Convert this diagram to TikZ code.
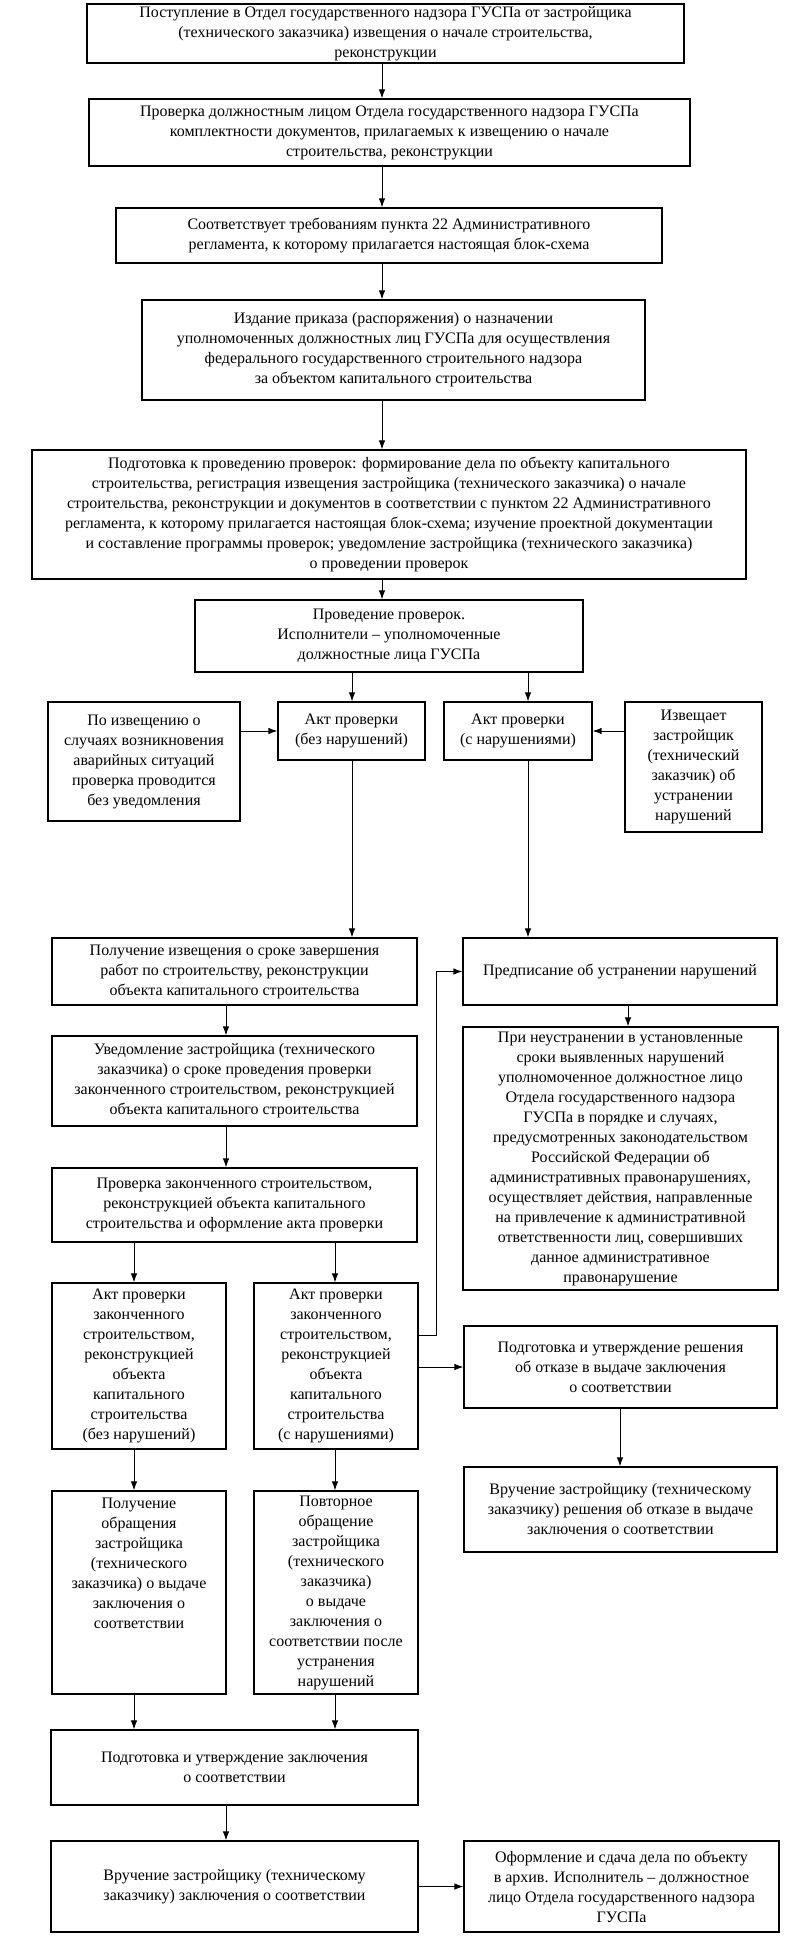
\documentclass[tikz,border=0pt]{standalone}
\usepackage{fontspec}
\setmainfont{Liberation Serif}
\usetikzlibrary{arrows.meta}

\begin{document}
\begin{tikzpicture}[x=1pt, y=-1pt, line width=1pt, >={Latex[length=9pt,width=6.5pt]},
  blk/.style={draw, line width=1.2pt, align=center, inner sep=2pt,
    font=\fontsize{16}{20}\selectfont}]
\useasboundingbox (0,0) rectangle (792,1941);

  \node[blk, minimum width=597, minimum height=59] (n1) at (385.5,33.5)
{Поступление в Отдел государственного надзора ГУСПа от застройщика\\(технического заказчика) извещения о начале строительства,\\реконструкции};
  \node[blk, minimum width=601, minimum height=67] (n2) at (389.5,132.5)
{Проверка должностным лицом Отдела государственного надзора ГУСПа\\комплектности документов, прилагаемых к извещению о начале\\строительства, реконструкции};
  \node[blk, minimum width=546, minimum height=55] (n3) at (389,235.5)
{Соответствует требованиям пункта 22 Административного\\регламента, к которому прилагается настоящая блок-схема};
  \node[blk, minimum width=503, minimum height=100] (n4) at (393.5,350)
{Издание приказа (распоряжения) о назначении\\уполномоченных должностных лиц ГУСПа для осуществления\\федерального государственного строительного надзора\\за объектом капитального строительства};
  \node[blk, minimum width=714, minimum height=129] (n5) at (389,514.5)
{Подготовка к проведению проверок: формирование дела по объекту капитального\\строительства, регистрация извещения застройщика (технического заказчика) о начале\\строительства, реконструкции и документов в соответствии с пунктом 22 Административного\\регламента, к которому прилагается настоящая блок-схема; изучение проектной документации\\и составление программы проверок; уведомление застройщика (технического заказчика)\\о проведении проверок};
  \node[blk, minimum width=388, minimum height=72] (n6) at (389,636)
{Проведение проверок.\\Исполнители – уполномоченные\\должностные лица ГУСПа};

  \node[blk, minimum width=192, minimum height=119] (n7) at (144,761.5)
{По извещению о\\случаях возникновения\\аварийных ситуаций\\проверка проводится\\без уведомления};
  \node[blk, minimum width=147, minimum height=58] (n8) at (351.5,731)
{Акт проверки\\(без нарушений)};
  \node[blk, minimum width=148, minimum height=58] (n9) at (518,731)
{Акт проверки\\(с нарушениями)};
  \node[blk, minimum width=137, minimum height=130] (n10) at (693.5,767)
{Извещает\\застройщик\\(технический\\заказчик) об\\устранении\\нарушений};

  \node[blk, minimum width=365, minimum height=67] (n11) at (234.5,971.5)
{Получение извещения о сроке завершения\\работ по строительству, реконструкции\\объекта капитального строительства};
  \node[blk, minimum width=314, minimum height=67] (n12) at (620,971.5)
{Предписание об устранении нарушений};
  \node[blk, minimum width=365, minimum height=90] (n13) at (234.5,1081)
{Уведомление застройщика (технического\\заказчика) о сроке проведения проверки\\законченного строительством, реконструкцией\\объекта капитального строительства};
  \node[blk, minimum width=315, minimum height=263] (n14) at (620.5,1158.5)
{При неустранении в установленные\\сроки выявленных нарушений\\уполномоченное должностное лицо\\Отдела государственного надзора\\ГУСПа в порядке и случаях,\\предусмотренных законодательством\\Российской Федерации об\\административных правонарушениях,\\осуществляет действия, направленные\\на привлечение к административной\\ответственности лиц, совершивших\\данное административное\\правонарушение};
  \node[blk, minimum width=365, minimum height=74] (n15) at (234.5,1205)
{Проверка законченного строительством,\\реконструкцией объекта капитального\\строительства и оформление акта проверки};

  \node[blk, minimum width=174, minimum height=166] (n16) at (139,1366)
{Акт проверки\\законченного\\строительством,\\реконструкцией\\объекта\\капитального\\строительства\\(без нарушений)};
  \node[blk, minimum width=164, minimum height=166] (n17) at (336,1366)
{Акт проверки\\законченного\\строительством,\\реконструкцией\\объекта\\капитального\\строительства\\(с нарушениями)};
  \node[blk, minimum width=313, minimum height=82] (n18) at (620.5,1367)
{Подготовка и утверждение решения\\об отказе в выдаче заключения\\о соответствии};

  \node[blk, minimum width=174, minimum height=203, text depth=58pt] (n19) at (139,1592.5)
{Получение\\обращения\\застройщика\\(технического\\заказчика) о выдаче\\заключения о\\соответствии};
  \node[blk, minimum width=164, minimum height=203] (n20) at (336,1592.5)
{Повторное\\обращение\\застройщика\\(технического\\заказчика)\\о выдаче\\заключения о\\соответствии после\\устранения\\нарушений};
  \node[blk, minimum width=313, minimum height=85] (n21) at (620.5,1509.5)
{Вручение застройщику (техническому\\заказчику) решения об отказе в выдаче\\заключения о соответствии};

  \node[blk, minimum width=367, minimum height=75] (n22) at (234.5,1767.5)
{Подготовка и утверждение заключения\\о соответствии};
  \node[blk, minimum width=367, minimum height=91] (n23) at (234.5,1886.5)
{Вручение застройщику (техническому\\заказчику) заключения о соответствии};
  \node[blk, minimum width=315, minimum height=91] (n24) at (621.5,1886.5)
{Оформление и сдача дела по объекту\\в архив. Исполнитель – должностное\\лицо Отдела государственного надзора\\ГУСПа};

  % vertical arrows: from / to / x
  \foreach \from/\to/\xx in {n1/n2/382, n2/n3/382, n3/n4/382, n4/n5/382, n5/n6/382,
      n6/n8/352, n6/n9/528, n8/n11/352, n9/n12/528, n11/n13/226, n13/n15/226,
      n15/n16/134, n15/n17/335, n12/n14/628, n16/n19/134, n17/n20/335,
      n18/n21/620, n19/n22/134, n20/n22/335, n22/n23/226}
   \draw[->] (\xx,0 |- \from.south) -- (\xx,0 |- \to.north);

  % horizontal arrows
  \draw[->] (n7.east |- n8.west) -- (n8.west);
  \draw[->] (n10.west |- n9.east) -- (n9.east);
  \draw[->] (n17.east |- n18.west) -- (n18.west);
  \draw[->] (n23.east) -- (n24.west);
  \coordinate (bend) at (436,1335);
  \draw[->] (n17.east |- bend) -- (bend) |- (n12.west);
\end{tikzpicture}
\end{document}
